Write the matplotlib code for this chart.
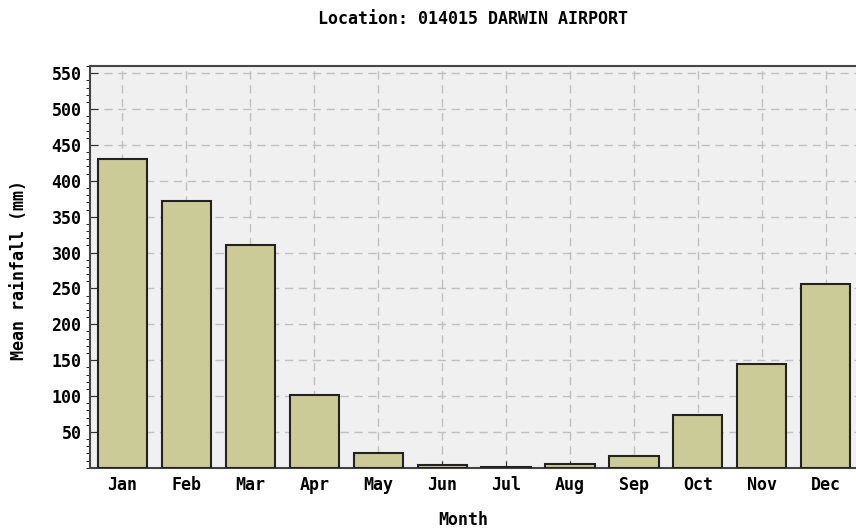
import numpy as np
from matplotlib import pyplot as plt
from matplotlib.ticker import MultipleLocator

# dati (mm)
months = ["Jan", "Feb", "Mar", "Apr", "May", "Jun", "Jul", "Aug", "Sep", "Oct", "Nov", "Dec"]
rainfall = [430, 372, 310, 101, 21, 4, 1, 6, 17, 73, 144, 256]

plt.rcParams['font.family'] = 'DejaVu Sans Mono'
plt.rcParams['font.weight'] = 'bold'
fs = 12

fig = plt.figure(figsize=(8.56, 5.28), dpi=100)
ax = fig.add_axes([0.105, 0.114, 0.897, 0.761])
ax.set_facecolor('#f0f0f0')

x = np.arange(len(months))
ax.bar(x, rainfall, width=0.77, color='#cbcb98', edgecolor='#222222', linewidth=1.5, zorder=3)

ax.set_xlim(-0.51, 11.5)
ax.set_ylim(0, 560)
ax.set_xticks(x)
ax.set_xticklabels(months)
ax.yaxis.set_major_locator(MultipleLocator(50))
ax.yaxis.set_minor_locator(MultipleLocator(10))
ax.set_yticks(np.arange(50, 551, 50))
ax.tick_params(axis='both', direction='in', labelsize=fs, color='#333333', pad=6)
ax.tick_params(axis='y', which='major', length=6)
ax.tick_params(axis='y', which='minor', length=3)
ax.tick_params(axis='x', length=5)
for lab in ax.get_xticklabels() + ax.get_yticklabels():
    lab.set_fontweight('bold')

ax.grid(True, linestyle=(0, (6, 4)), color='#c0c0c0', linewidth=1, zorder=0)
for s in ax.spines.values():
    s.set_color('#444444')
    s.set_linewidth(1.5)

fig.text(473 / 856, 1 - 19 / 528, "Location: 014015 DARWIN AIRPORT", ha='center', va='center',
         fontsize=fs, fontweight='bold')
fig.text(19 / 856, 1 - 270 / 528, "Mean rainfall (mm)", ha='center', va='center', rotation=90,
         fontsize=fs, fontweight='bold')
fig.text(463 / 856, 1 - 520 / 528, "Month", ha='center', va='center', fontsize=fs, fontweight='bold')

plt.savefig('out.png', dpi=100)
